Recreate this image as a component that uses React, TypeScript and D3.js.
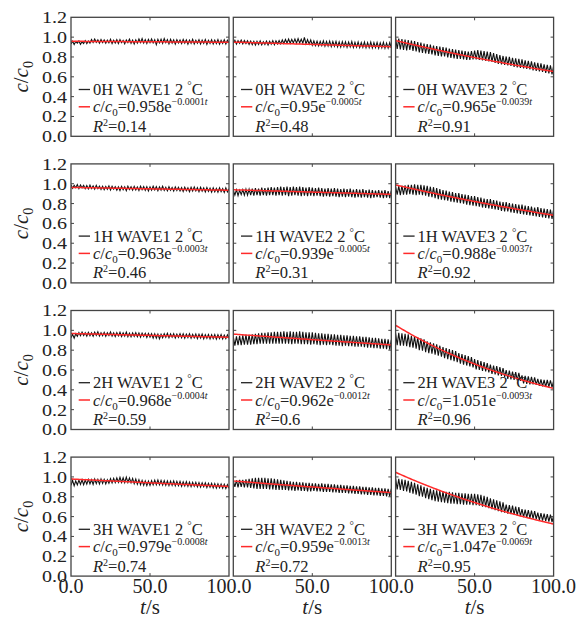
import React from "react";
import * as d3 from "d3";

const W = 585;
const H = 618;
const left = 71;
const colW = 158;
const gapX = 4.3;
const top0 = 17.3;
const rowH = 119;
const rowStep = 146.6;
const FONT = "'Liberation Serif', 'Times New Roman', serif";

const depths = ["0H", "1H", "2H", "3H"];
const waves = ["WAVE1", "WAVE2", "WAVE3"];
const yTicks = [0, 0.2, 0.4, 0.6, 0.8, 1.0, 1.2];
const xTicks = [0, 50, 100];
// sampling times of the measured series, seconds
const times = d3.range(0, 101);

// fit c/c0 = a * exp(b t) and R^2, rows = depth, cols = wave
const fitA = [
  [0.958, 0.95, 0.965],
  [0.963, 0.939, 0.988],
  [0.968, 0.962, 1.051],
  [0.979, 0.959, 1.047],
];
const fitB = [
  [-0.0001, -0.0005, -0.0039],
  [-0.0003, -0.0005, -0.0037],
  [-0.0004, -0.0012, -0.0093],
  [-0.0008, -0.0013, -0.0069],
];
const r2 = [
  [0.14, 0.48, 0.91],
  [0.46, 0.31, 0.92],
  [0.59, 0.6, 0.96],
  [0.74, 0.72, 0.95],
];

// measured c/c0, one value per second
const h0w1 = [
  0.93, 0.958, 0.925, 0.955, 0.94, 0.962, 0.928, 0.953, 0.936, 0.965,
  0.935, 0.962, 0.94, 0.975, 0.945, 0.98, 0.948, 0.972, 0.94, 0.976,
  0.945, 0.972, 0.938, 0.97, 0.942, 0.978, 0.935, 0.968, 0.94, 0.974,
  0.936, 0.975, 0.944, 0.968, 0.932, 0.972, 0.945, 0.98, 0.938, 0.97,
  0.93, 0.972, 0.94, 0.982, 0.945, 0.985, 0.94, 0.975, 0.936, 0.978,
  0.944, 0.982, 0.942, 0.974, 0.925, 0.978, 0.942, 0.98, 0.938, 0.986,
  0.944, 0.975, 0.932, 0.978, 0.94, 0.972, 0.93, 0.975, 0.94, 0.97,
  0.935, 0.976, 0.94, 0.972, 0.928, 0.97, 0.938, 0.978, 0.932, 0.968,
  0.938, 0.974, 0.93, 0.97, 0.936, 0.976, 0.928, 0.968, 0.937, 0.973,
  0.93, 0.97, 0.934, 0.975, 0.928, 0.967, 0.936, 0.973, 0.93, 0.968,
  0.94,
];
const h0w2 = [
  0.935, 0.968, 0.93, 0.965, 0.938, 0.97, 0.932, 0.966, 0.935, 0.964,
  0.926, 0.96, 0.924, 0.958, 0.92, 0.957, 0.926, 0.962, 0.922, 0.955,
  0.925, 0.96, 0.92, 0.958, 0.928, 0.965, 0.924, 0.962, 0.93, 0.966,
  0.932, 0.972, 0.936, 0.976, 0.94, 0.98, 0.938, 0.978, 0.942, 0.982,
  0.94, 0.985, 0.942, 0.98, 0.938, 0.998, 0.932, 0.975, 0.93, 0.972,
  0.918, 0.962, 0.915, 0.96, 0.912, 0.958, 0.914, 0.962, 0.908, 0.956,
  0.91, 0.96, 0.905, 0.955, 0.908, 0.958, 0.902, 0.952, 0.9, 0.955,
  0.903, 0.953, 0.898, 0.95, 0.902, 0.955, 0.896, 0.948, 0.899, 0.952,
  0.894, 0.946, 0.897, 0.95, 0.892, 0.944, 0.895, 0.95, 0.89, 0.945,
  0.894, 0.947, 0.888, 0.943, 0.892, 0.948, 0.887, 0.94, 0.89, 0.944,
  0.893,
];
const h0w3 = [
  0.99, 0.88, 0.985, 0.875, 0.98, 0.87, 0.975, 0.865, 0.97, 0.87,
  0.965, 0.86, 0.96, 0.855, 0.95, 0.845, 0.945, 0.84, 0.935, 0.835,
  0.93, 0.83, 0.925, 0.825, 0.915, 0.815, 0.91, 0.81, 0.905, 0.805,
  0.9, 0.805, 0.895, 0.795, 0.885, 0.79, 0.88, 0.785, 0.875, 0.78,
  0.87, 0.78, 0.865, 0.775, 0.86, 0.77, 0.855, 0.77, 0.86, 0.775,
  0.865, 0.775, 0.87, 0.77, 0.865, 0.765, 0.86, 0.76, 0.855, 0.755,
  0.85, 0.75, 0.84, 0.74, 0.83, 0.73, 0.82, 0.725, 0.81, 0.72,
  0.805, 0.715, 0.8, 0.71, 0.79, 0.7, 0.785, 0.695, 0.78, 0.69,
  0.775, 0.685, 0.765, 0.68, 0.76, 0.675, 0.755, 0.665, 0.745, 0.66,
  0.74, 0.655, 0.735, 0.65, 0.725, 0.64, 0.72, 0.635, 0.715, 0.625,
  0.71,
];
const h1w1 = [
  0.99, 0.955, 0.985, 0.96, 0.992, 0.952, 0.988, 0.958, 0.984, 0.95,
  0.982, 0.948, 0.986, 0.952, 0.978, 0.945, 0.984, 0.95, 0.976, 0.942,
  0.975, 0.94, 0.972, 0.944, 0.978, 0.936, 0.974, 0.945, 0.97, 0.935,
  0.968, 0.932, 0.974, 0.94, 0.97, 0.93, 0.976, 0.942, 0.97, 0.935,
  0.974, 0.938, 0.968, 0.932, 0.976, 0.94, 0.972, 0.934, 0.97, 0.928,
  0.968, 0.935, 0.975, 0.938, 0.97, 0.93, 0.968, 0.936, 0.974, 0.932,
  0.965, 0.928, 0.97, 0.934, 0.963, 0.926, 0.968, 0.932, 0.964, 0.928,
  0.962, 0.923, 0.966, 0.93, 0.96, 0.92, 0.964, 0.926, 0.968, 0.928,
  0.96, 0.92, 0.964, 0.926, 0.958, 0.918, 0.962, 0.922, 0.956, 0.915,
  0.958, 0.918, 0.954, 0.915, 0.96, 0.92, 0.952, 0.912, 0.958, 0.918,
  0.95,
];
const h1w2 = [
  0.935, 0.885, 0.94, 0.88, 0.935, 0.89, 0.94, 0.885, 0.945, 0.885,
  0.945, 0.885, 0.95, 0.88, 0.955, 0.885, 0.95, 0.88, 0.96, 0.885,
  0.955, 0.88, 0.96, 0.885, 0.965, 0.885, 0.96, 0.88, 0.965, 0.885,
  0.97, 0.88, 0.965, 0.885, 0.97, 0.875, 0.965, 0.88, 0.97, 0.885,
  0.965, 0.88, 0.97, 0.875, 0.965, 0.88, 0.96, 0.875, 0.965, 0.88,
  0.96, 0.875, 0.955, 0.88, 0.96, 0.875, 0.955, 0.87, 0.95, 0.875,
  0.955, 0.87, 0.95, 0.875, 0.955, 0.87, 0.95, 0.865, 0.945, 0.87,
  0.95, 0.865, 0.945, 0.87, 0.95, 0.865, 0.94, 0.86, 0.945, 0.865,
  0.94, 0.86, 0.945, 0.865, 0.935, 0.86, 0.94, 0.855, 0.935, 0.86,
  0.93, 0.865, 0.935, 0.86, 0.93, 0.855, 0.935, 0.86, 0.925, 0.855,
  0.93,
];
const h1w3 = [
  0.97, 0.89, 0.975, 0.885, 0.98, 0.89, 0.985, 0.89, 0.99, 0.895,
  0.99, 0.89, 0.995, 0.885, 0.99, 0.89, 0.99, 0.885, 0.985, 0.88,
  0.98, 0.87, 0.97, 0.865, 0.965, 0.855, 0.955, 0.845, 0.945, 0.84,
  0.935, 0.835, 0.93, 0.83, 0.92, 0.82, 0.915, 0.815, 0.905, 0.81,
  0.905, 0.805, 0.895, 0.8, 0.89, 0.79, 0.885, 0.785, 0.875, 0.78,
  0.875, 0.775, 0.865, 0.77, 0.86, 0.76, 0.85, 0.755, 0.845, 0.75,
  0.845, 0.745, 0.835, 0.74, 0.83, 0.735, 0.82, 0.725, 0.815, 0.72,
  0.815, 0.72, 0.805, 0.71, 0.8, 0.705, 0.795, 0.7, 0.79, 0.695,
  0.79, 0.69, 0.78, 0.685, 0.775, 0.68, 0.77, 0.675, 0.76, 0.67,
  0.765, 0.665, 0.755, 0.66, 0.75, 0.655, 0.745, 0.65, 0.74, 0.645,
  0.74,
];
const h2w1 = [
  0.925, 0.96, 0.92, 0.966, 0.94, 0.978, 0.945, 0.982, 0.948, 0.976,
  0.942, 0.98, 0.946, 0.975, 0.94, 0.982, 0.948, 0.986, 0.942, 0.976,
  0.946, 0.98, 0.94, 0.976, 0.948, 0.984, 0.942, 0.974, 0.938, 0.978,
  0.944, 0.98, 0.938, 0.974, 0.942, 0.982, 0.936, 0.972, 0.934, 0.975,
  0.94, 0.976, 0.935, 0.974, 0.93, 0.972, 0.938, 0.97, 0.928, 0.968,
  0.932, 0.966, 0.922, 0.964, 0.92, 0.962, 0.915, 0.96, 0.925, 0.966,
  0.93, 0.97, 0.925, 0.964, 0.93, 0.966, 0.922, 0.962, 0.928, 0.966,
  0.925, 0.964, 0.92, 0.962, 0.927, 0.965, 0.92, 0.96, 0.925, 0.962,
  0.917, 0.96, 0.922, 0.962, 0.915, 0.957, 0.92, 0.958, 0.914, 0.956,
  0.918, 0.958, 0.912, 0.956, 0.917, 0.957, 0.912, 0.952, 0.916, 0.955,
  0.92,
];
const h2w2 = [
  0.935, 0.845, 0.94, 0.85, 0.945, 0.85, 0.95, 0.855, 0.955, 0.855,
  0.955, 0.855, 0.96, 0.86, 0.965, 0.86, 0.97, 0.865, 0.975, 0.865,
  0.975, 0.865, 0.98, 0.865, 0.98, 0.865, 0.985, 0.865, 0.985, 0.865,
  0.985, 0.865, 0.99, 0.865, 0.985, 0.865, 0.99, 0.86, 0.985, 0.865,
  0.985, 0.865, 0.99, 0.86, 0.985, 0.86, 0.98, 0.86, 0.98, 0.855,
  0.98, 0.86, 0.975, 0.855, 0.97, 0.85, 0.97, 0.855, 0.965, 0.85,
  0.965, 0.855, 0.96, 0.85, 0.96, 0.845, 0.955, 0.845, 0.955, 0.84,
  0.95, 0.845, 0.95, 0.84, 0.945, 0.84, 0.945, 0.835, 0.94, 0.835,
  0.94, 0.835, 0.935, 0.83, 0.935, 0.825, 0.93, 0.825, 0.925, 0.82,
  0.925, 0.82, 0.92, 0.815, 0.915, 0.815, 0.915, 0.81, 0.91, 0.805,
  0.905,
];
const h2w3 = [
  0.97, 0.85, 0.975, 0.845, 0.97, 0.845, 0.965, 0.84, 0.96, 0.83,
  0.945, 0.825, 0.94, 0.815, 0.93, 0.8, 0.92, 0.795, 0.91, 0.78,
  0.89, 0.77, 0.88, 0.765, 0.87, 0.755, 0.86, 0.745, 0.845, 0.735,
  0.83, 0.72, 0.82, 0.71, 0.81, 0.7, 0.8, 0.69, 0.79, 0.68,
  0.77, 0.665, 0.76, 0.655, 0.75, 0.645, 0.74, 0.635, 0.73, 0.625,
  0.71, 0.605, 0.7, 0.6, 0.69, 0.59, 0.68, 0.585, 0.67, 0.575,
  0.655, 0.56, 0.645, 0.555, 0.64, 0.545, 0.63, 0.54, 0.62, 0.53,
  0.6, 0.51, 0.595, 0.505, 0.585, 0.5, 0.58, 0.495, 0.57, 0.49,
  0.545, 0.465, 0.54, 0.46, 0.535, 0.455, 0.53, 0.455, 0.525, 0.45,
  0.51, 0.44, 0.505, 0.435, 0.5, 0.43, 0.5, 0.43, 0.495, 0.425,
  0.49,
];
const h3w1 = [
  0.915, 0.965, 0.91, 0.96, 0.92, 0.968, 0.925, 0.972, 0.922, 0.968,
  0.927, 0.975, 0.93, 0.972, 0.925, 0.978, 0.932, 0.975, 0.928, 0.98,
  0.935, 0.976, 0.93, 0.972, 0.936, 0.982, 0.94, 0.985, 0.942, 0.99,
  0.946, 0.995, 0.944, 0.992, 0.942, 0.998, 0.944, 0.99, 0.94, 0.985,
  0.932, 0.978, 0.926, 0.972, 0.92, 0.965, 0.915, 0.96, 0.912, 0.958,
  0.915, 0.962, 0.92, 0.968, 0.922, 0.97, 0.92, 0.965, 0.917, 0.962,
  0.915, 0.96, 0.912, 0.958, 0.915, 0.96, 0.91, 0.955, 0.912, 0.954,
  0.906, 0.95, 0.91, 0.952, 0.905, 0.948, 0.902, 0.946, 0.905, 0.945,
  0.9, 0.942, 0.897, 0.94, 0.9, 0.94, 0.893, 0.936, 0.895, 0.935,
  0.89, 0.932, 0.887, 0.93, 0.89, 0.928, 0.885, 0.925, 0.883, 0.922,
  0.885,
];
const h3w2 = [
  0.96, 0.9, 0.965, 0.895, 0.97, 0.9, 0.97, 0.895, 0.975, 0.895,
  0.98, 0.89, 0.985, 0.885, 0.99, 0.88, 0.99, 0.88, 0.99, 0.88,
  0.99, 0.88, 0.985, 0.875, 0.985, 0.875, 0.98, 0.87, 0.975, 0.87,
  0.97, 0.87, 0.965, 0.87, 0.96, 0.865, 0.955, 0.865, 0.95, 0.86,
  0.95, 0.865, 0.945, 0.86, 0.945, 0.86, 0.94, 0.855, 0.94, 0.855,
  0.935, 0.86, 0.935, 0.855, 0.93, 0.855, 0.935, 0.85, 0.93, 0.85,
  0.93, 0.85, 0.925, 0.845, 0.925, 0.845, 0.92, 0.84, 0.92, 0.84,
  0.915, 0.84, 0.915, 0.835, 0.91, 0.835, 0.91, 0.83, 0.905, 0.83,
  0.905, 0.825, 0.9, 0.825, 0.9, 0.82, 0.895, 0.82, 0.895, 0.815,
  0.89, 0.815, 0.89, 0.81, 0.885, 0.81, 0.885, 0.805, 0.88, 0.805,
  0.88,
];
const h3w3 = [
  0.985, 0.875, 0.98, 0.87, 0.975, 0.86, 0.97, 0.855, 0.96, 0.84,
  0.95, 0.83, 0.94, 0.82, 0.925, 0.805, 0.915, 0.8, 0.9, 0.785,
  0.89, 0.775, 0.88, 0.765, 0.87, 0.755, 0.865, 0.75, 0.86, 0.745,
  0.855, 0.74, 0.85, 0.735, 0.85, 0.73, 0.845, 0.73, 0.84, 0.725,
  0.84, 0.725, 0.835, 0.72, 0.835, 0.72, 0.83, 0.72, 0.83, 0.715,
  0.83, 0.715, 0.825, 0.71, 0.82, 0.7, 0.81, 0.695, 0.8, 0.685,
  0.785, 0.675, 0.775, 0.665, 0.765, 0.655, 0.755, 0.645, 0.745, 0.64,
  0.72, 0.63, 0.715, 0.625, 0.71, 0.62, 0.7, 0.61, 0.695, 0.605,
  0.675, 0.595, 0.67, 0.59, 0.665, 0.585, 0.66, 0.58, 0.655, 0.575,
  0.64, 0.565, 0.635, 0.56, 0.63, 0.555, 0.625, 0.55, 0.62, 0.545,
  0.61,
];

const measured = [
  [h0w1, h0w2, h0w3],
  [h1w1, h1w2, h1w3],
  [h2w1, h2w2, h2w3],
  [h3w1, h3w2, h3w3],
];

const fmtB = (b: number) => "\u2212" + Math.abs(b).toFixed(4);

function Panel({ row, col }: { row: number; col: number }) {
  const px = left + col * (colW + gapX);
  const py = top0 + row * rowStep;
  const x = d3.scaleLinear().domain([0, 100]).range([px, px + colW]);
  const y = d3.scaleLinear().domain([0, 1.2]).range([py + rowH, py]);
  const line = d3
    .line<[number, number]>()
    .x((d) => x(d[0]))
    .y((d) => y(d[1]));
  const data = measured[row][col];
  const a = fitA[row][col];
  const b = fitB[row][col];
  const blackPath = line(times.map((t, i) => [t, data[i]]));
  const redPath = line(times.map((t) => [t, a * Math.exp(b * t)]));
  const clipId = `clip-${row}-${col}`;
  const lx = px + 7.7;
  const tx = px + 22;
  const b1 = py + 77.7;
  const b2 = py + 95;
  const b3 = py + 114.4;
  const frame = "#444";

  return (
    <g>
      <defs>
        <clipPath id={clipId}>
          <rect x={px} y={py} width={colW} height={rowH} />
        </clipPath>
      </defs>
      <g clipPath={`url(#${clipId})`}>
        <path d={blackPath || ""} fill="none" stroke="#111" strokeWidth={1.1} />
        <path d={redPath || ""} fill="none" stroke="#ff2a2a" strokeWidth={1.5} />
      </g>
      {/* inward ticks */}
      {yTicks.slice(1, -1).map((v) => (
        <g key={v}>
          <line x1={px} x2={px + 3} y1={y(v)} y2={y(v)} stroke={frame} />
          <line x1={px + colW - 3} x2={px + colW} y1={y(v)} y2={y(v)} stroke={frame} />
        </g>
      ))}
      <line x1={x(50)} x2={x(50)} y1={py} y2={py + 3} stroke={frame} />
      <line x1={x(50)} x2={x(50)} y1={py + rowH - 3} y2={py + rowH} stroke={frame} />
      <rect x={px} y={py} width={colW} height={rowH} fill="none" stroke={frame} strokeWidth={1.3} />

      {/* legend */}
      <g fontFamily={FONT} fill="#222">
        <line x1={lx} x2={lx + 11.3} y1={b1 - 5.5} y2={b1 - 5.5} stroke="#222" strokeWidth={1.3} />
        <text x={tx} y={b1} fontSize={16.5}>
          {`${depths[row]} ${waves[col]} 2 `}
          <tspan fontSize={11} dy={-6}>°</tspan>
          <tspan dy={6}>C</tspan>
        </text>
        <line x1={lx} x2={lx + 11.3} y1={b2 - 5.5} y2={b2 - 5.5} stroke="#ff2a2a" strokeWidth={1.5} />
        <text x={tx} y={b2} fontSize={16.5}>
          <tspan fontStyle="italic">c</tspan>
          <tspan>/</tspan>
          <tspan fontStyle="italic">c</tspan>
          <tspan fontSize={11} dy={4}>0</tspan>
          <tspan dy={-4}>{`=${a}e`}</tspan>
          <tspan fontSize={10} dy={-7}>{fmtB(b)}</tspan>
          <tspan fontSize={10} fontStyle="italic">t</tspan>
        </text>
        <text x={tx} y={b3} fontSize={16.5}>
          <tspan fontStyle="italic">R</tspan>
          <tspan fontSize={10} dy={-6}>2</tspan>
          <tspan dy={6}>{`=${r2[row][col]}`}</tspan>
        </text>
      </g>

      {/* y tick labels on first column */}
      {col === 0 &&
        yTicks.map((v) => (
          <text
            key={v}
            transform={`translate(${px - 4},${y(v)}) scale(1.18,1)`}
            textAnchor="end"
            dominantBaseline="central"
            fontFamily={FONT}
            fontSize={17}
            fill="#222"
          >
            {v.toFixed(1)}
          </text>
        ))}
      {col === 0 && (
        <text
          transform={`translate(${px - 43},${py + rowH / 2}) rotate(-90)`}
          textAnchor="middle"
          fontFamily={FONT}
          fontSize={21}
          fill="#222"
        >
          <tspan fontStyle="italic">c</tspan>
          <tspan>/</tspan>
          <tspan fontStyle="italic">c</tspan>
          <tspan fontSize={14} dy={5}>0</tspan>
        </text>
      )}

      {/* x tick labels on last row */}
      {row === 3 &&
        xTicks
          .filter((t) => col === 0 || t > 0)
          .map((t) => (
            <text
              key={t}
              x={x(t)}
              y={py + rowH + 17}
              textAnchor="middle"
              fontFamily={FONT}
              fontSize={20}
              fill="#222"
            >
              {t.toFixed(1)}
            </text>
          ))}
      {row === 3 && (
        <text
          x={x(50)}
          y={py + rowH + 38}
          textAnchor="middle"
          fontFamily={FONT}
          fontSize={21}
          fill="#222"
        >
          <tspan fontStyle="italic">t</tspan>
          <tspan>/s</tspan>
        </text>
      )}
    </g>
  );
}

export default function App() {
  return (
    <svg width={W} height={H} style={{ display: "block", position: "absolute", left: 0, top: 0, background: "#fff" }}>
      {depths.map((_, r) =>
        waves.map((_, c) => <Panel key={`${r}-${c}`} row={r} col={c} />)
      )}
    </svg>
  );
}
